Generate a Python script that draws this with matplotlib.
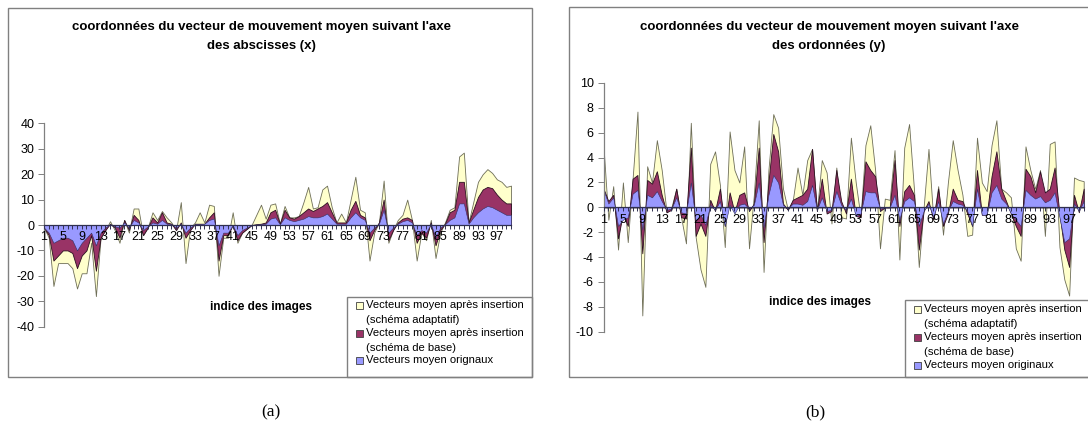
import matplotlib

matplotlib.use("Agg")
import matplotlib.pyplot as plt
from matplotlib.patches import Rectangle
import numpy as np

plt.rcParams["axes.unicode_minus"] = False

# Figure size in pixels (dpi = 100)
W, H = 1088, 434

IMAGE_INDEX = np.arange(1, 101)
X_TICK_LABELS = [str(i) if i % 4 == 1 else "" for i in IMAGE_INDEX]

# Panel (a): mean motion vector along the x axis
X_ADAPTIVE = [
    -1, -5, -24, -15, -15, -15, -17, -25, -19, -19,
    -7, -28, -5, -2, 1.5, -2, -7, 2, -3, 6.5,
    6.5, -4, -1, 5, 2, 5.5, 3, 1, -2, 9,
    -15, -1, 1, 5, 1, 8, 7.5, -20, -5, -5,
    5, -7, -3, -1.5, 0, 4, 8, 2.5, 8, 8.5,
    0.5, 7.5, 3, 3, 3.5, 9, 15, 6.5, 7, 14,
    15.5, 7, 1, 4.5, 1, 10, 19, 6, 5, -14,
    -3, 1, 17.5, -7, -2, 2, 4, 10, 2, -14,
    -3, -6, 2, -13, -3, 1, 6, 7, 27, 28.5,
    1, 9, 17, 20, 22, 20.5, 18, 17, 15, 15.5,
]
X_BASE = [
    -1, -4, -14, -12, -10, -10, -11, -17, -12, -10,
    -4, -18, -5, -2, 0.5, -1, -5, 2, -2, 4,
    2, -4, -1, 3, 1, 5, 1, 0.5, -2, 1,
    -5, -2, 0.5, 0.5, 0.5, 3, 5, -14, -4, -4,
    0, -6, -3, -1.5, 0, 0.3, 0.5, 1, 5, 6,
    0.5, 6, 3, 2.5, 3.5, 5, 6.5, 5.5, 6.5, 7.5,
    9, 5, 1, 1, 1, 6, 9.5, 4, 3, -6,
    -2, 1, 10, -6, -2, 1, 2.5, 3, 2, -7,
    -3, -5, 1, -8, -2, 0.5, 5, 6, 17, 17,
    1, 6, 11, 14, 15, 14.5, 12, 10, 8.5, 8.5,
]
X_ORIGINAL = [
    -1, -3, -7, -6, -5, -5, -6, -10, -7, -5,
    -3, -8, -3, -1, 0.3, -0.5, -1, 1, -1, 2,
    1, -2, -0.5, 1, 0.5, 2, 0.5, 0.3, -1, 0.5,
    -3, -1, 0.3, 0.3, 0.5, 2, 2.5, -8, -3, -3,
    0, -4, -2, -1, 0, 0.2, 0.3, 0.5, 2.5, 3,
    0.3, 3, 2, 1.5, 2, 2.5, 3.5, 3, 3, 3.5,
    4.5, 2.5, 0.5, 0.5, 0.5, 3, 5, 3, 2, -3,
    -1, 0.5, 6, -3, -1, 0.5, 1.5, 2, 1, -4,
    -2, -3, 0.5, -5, -1, 0.3, 2, 3, 8.5, 8.5,
    0.5, 3, 5, 6.5, 7.5, 7, 6, 5, 4, 4,
]

# Panel (b): mean motion vector along the y axis
Y_ADAPTIVE = [
    4.9, -1, 1.7, -3.4, 2, -2.8, 2.3, 7.7, -8.7, 3.3,
    2, 5.4, 3, -0.4, 0, 1.5, -0.8, -2.9, 6.8, -2.4,
    -5, -6.4, 3.5, 4.5, 1.8, -3.2, 6.1, 3, 2, 4.9,
    -3.3, 1, 7, -5.2, 3, 7.5, 6.4, 1.5, -0.2, 0.5,
    3.2, 1, 3.8, 4.7, -0.3, 3.8, 2.8, -1.3, 3.2, -0.8,
    -0.9, 5.6, 2, -0.8, 5, 6.6, 3, -3.3, 0.7, 0.6,
    4.6, -4.2, 4.8, 6.7, 1.5, -4.8, 0, 4.7, -1, 1.7,
    -2.2, 2, 5.4, 3, 1, -2.3, -2.2, 5.6, 2, 1.3,
    5, 7, 1.5, 1.2, 0.8, -3.3, -4.3, 4.9, 3, 1.5,
    3, -2.3, 5.1, 5.3, -3.2, -5.8, -7.1, 2.4, 2.2, 2.1,
]
Y_BASE = [
    1.5, 0.5, 1, -2.5, -0.5, -1.5, 2.3, 2.6, -3.7, 2.2,
    1.9, 2.9, 1, -0.4, -0.2, 1.5, -0.8, -0.9, 4.8, -2.3,
    -1.3, -2.3, 0.6, -0.3, 1.5, -1.5, 1.2, -0.4, 1, 1.2,
    -0.3, 0.3, 4.8, -2.8, 2, 5.9, 4.5, 0.3, -0.2, 0.6,
    0.8, 1, 1.5, 4.7, -0.3, 2.3, -0.5, -0.3, 3, 0.5,
    -0.5, 2.3, -0.7, -0.8, 3.7, 3, 2.5, -0.3, 0, 0,
    3.8, -1.5, 1.3, 1.8, 1, -3.4, -0.3, 0.5, -1, 1.5,
    -1.5, -0.5, 1.5, 0.6, 0.5, -0.5, -1.5, 3, -0.6, -0.6,
    2.5, 4.5, 1.5, 0.5, -0.5, -1.5, -2.3, 3.1, 2.5, 1.2,
    2.9, 1.2, 1.5, 3.2, -0.5, -3.4, -4.8, 1, -0.4, 1.5,
]
Y_ORIGINAL = [
    1.4, 0.3, 0.8, -1.5, -1, -0.8, 1.1, 1.4, -1.8, 1,
    0.8, 1.3, 0.5, -0.2, -0.1, 0.8, -0.4, -0.5, 2, -1.1,
    -0.6, -1.4, 0.2, -0.2, 0.5, -1.5, 0.2, -0.5, 0.2, 0.3,
    -0.1, 0.2, 2, -1.6, 1, 2.6, 2, 0.2, -0.1, 0.3,
    0.3, 0.2, 0.5, 1.8, -0.2, 0.8, -0.3, -0.2, 1.3, 0.2,
    -0.2, 0.7, -0.7, -0.5, 1.3, 1.2, 1.2, -0.1, 0, 0,
    1, -1, 0.5, 0.8, 0.5, -1.5, -0.3, 0.3, -0.8, 0.5,
    -1.3, -0.3, 0.5, 0.3, 0.2, -0.3, -1.5, 1.5, -0.6, -0.6,
    1.2, 1.8, 0.7, 0.3, -0.5, -1, -1.5, 1.4, 1, 0.7,
    0.9, 0.4, 0.6, 1.2, -0.8, -2.8, -2.5, 0.3, -0.3, 0.5,
]

X_YTICKS = list(range(-40, 41, 10))
Y_YTICKS = list(range(-10, 11, 2))

TITLE_LINE_1 = "coordonnées du vecteur de mouvement moyen suivant l'axe"
X_TITLE_LINE_2 = "des abscisses (x)"
Y_TITLE_LINE_2 = "des ordonnées (y)"
X_AXIS_LABEL = "indice des images"

LEGEND_LINES = [
    "Vecteurs moyen après insertion",
    "(schéma adaptatif)",
    "Vecteurs moyen après insertion",
    "(schéma de base)",
]
ORIGINAL_LABEL_X = "Vecteurs moyen orignaux"
ORIGINAL_LABEL_Y = "Vecteurs moyen originaux"

ADAPTIVE_COLOR = "#ffffcc"
BASE_COLOR = "#993366"
ORIGINAL_COLOR = "#9999ff"
FRAME_COLOR = "#808080"

FONT = "Liberation Sans"


def fx(x):
    return x / W


def fy(y):
    return 1 - y / H


def add_axes_px(fig, left, top, right, bottom):
    """Add axes given pixel edges measured from the top-left corner."""
    return fig.add_axes([fx(left), fy(bottom), (right - left) / W, (bottom - top) / H])


def add_frame(fig, left, top, right, bottom):
    fig.add_artist(
        Rectangle(
            (fx(left), fy(bottom)),
            (right - left) / W,
            (bottom - top) / H,
            transform=fig.transFigure,
            fill=False,
            edgecolor=FRAME_COLOR,
            linewidth=1.0,
        )
    )


def draw_areas(ax, adaptive, base, original, yticks):
    ax.fill_between(IMAGE_INDEX, 0, adaptive, facecolor=ADAPTIVE_COLOR,
                    edgecolor="#6e6e58", linewidth=0.6, zorder=1)
    ax.fill_between(IMAGE_INDEX, 0, base, facecolor=BASE_COLOR,
                    edgecolor="#2a1020", linewidth=0.6, zorder=1.1)
    ax.fill_between(IMAGE_INDEX, 0, original, facecolor=ORIGINAL_COLOR,
                    edgecolor="#303060", linewidth=0.4, zorder=1.2)

    ax.set_xlim(1, len(IMAGE_INDEX))
    ax.set_ylim(yticks[0], yticks[-1])
    ax.set_facecolor("none")
    ax.set_axisbelow(False)

    for side in ("top", "right"):
        ax.spines[side].set_visible(False)
    ax.spines["bottom"].set_position(("data", 0))
    ax.spines["bottom"].set_color("#303050")
    ax.spines["bottom"].set_linewidth(0.9)
    ax.spines["bottom"].set_zorder(3)
    ax.spines["left"].set_color(FRAME_COLOR)
    ax.spines["left"].set_linewidth(0.9)

    ax.set_xticks(IMAGE_INDEX)
    ax.set_xticklabels(X_TICK_LABELS)
    ax.set_yticks(yticks)
    ax.tick_params(axis="x", direction="out", length=3, width=0.7,
                   color="#303050", pad=1.5, labelsize=9)
    ax.tick_params(axis="y", direction="out", length=4, width=0.7,
                   color=FRAME_COLOR, pad=3, labelsize=9)
    for label in ax.get_xticklabels() + ax.get_yticklabels():
        label.set_fontfamily(FONT)


def draw_legend(fig, left, top, right, bottom, first_line_y, steps, original_label):
    add_frame(fig, left, top, right, bottom)
    ys = [first_line_y]
    for step in steps:
        ys.append(ys[-1] + step)
    colors = [ADAPTIVE_COLOR, None, BASE_COLOR, None, ORIGINAL_COLOR]
    texts = LEGEND_LINES + [original_label]
    box = 7
    for y, color, text in zip(ys, colors, texts):
        if color is not None:
            fig.add_artist(
                Rectangle(
                    (fx(left + 8.5), fy(y + box / 2)),
                    box / W,
                    box / H,
                    transform=fig.transFigure,
                    facecolor=color,
                    edgecolor="#404040",
                    linewidth=0.6,
                )
            )
        fig.text(fx(left + 18.5), fy(y), text, ha="left", va="center",
                 fontsize=8.1, family=FONT)


def draw_titles(fig, center_x, second_line, label_x, label_y):
    fig.text(fx(center_x), fy(27), TITLE_LINE_1, ha="center", va="center",
             fontsize=9.5, fontweight="bold", family=FONT)
    fig.text(fx(center_x), fy(46), second_line, ha="center", va="center",
             fontsize=9.5, fontweight="bold", family=FONT)
    fig.text(fx(label_x), fy(label_y), X_AXIS_LABEL, ha="center", va="center",
             fontsize=8.5, fontweight="bold", family=FONT)


def main():
    fig = plt.figure(figsize=(W / 100, H / 100), dpi=100)
    fig.patch.set_facecolor("white")

    # Panel (a)
    add_frame(fig, 7.5, 7.5, 532, 377)
    ax_x = add_axes_px(fig, 44, 123.4, 511, 326.6)
    draw_areas(ax_x, X_ADAPTIVE, X_BASE, X_ORIGINAL, X_YTICKS)
    draw_titles(fig, 261, X_TITLE_LINE_2, 261, 307)
    draw_legend(fig, 347, 297, 532, 377, 305, [15, 13, 15, 12], ORIGINAL_LABEL_X)

    # Panel (b)
    add_frame(fig, 568.5, 7, 1100, 377)
    ax_y = add_axes_px(fig, 603.5, 83, 1083.7, 331.6)
    draw_areas(ax_y, Y_ADAPTIVE, Y_BASE, Y_ORIGINAL, Y_YTICKS)
    draw_titles(fig, 829, Y_TITLE_LINE_2, 820, 302)
    draw_legend(fig, 905, 300, 1100, 377, 309, [15, 13.5, 14.5, 13], ORIGINAL_LABEL_Y)

    # Sub-figure captions
    fig.text(fx(271), fy(412), "(a)", ha="center", va="center",
             fontsize=12.5, family="Liberation Serif")
    fig.text(fx(815), fy(412), "(b)", ha="center", va="center",
             fontsize=12.5, family="Liberation Serif")

    fig.savefig("out.png", dpi=100)
    plt.close(fig)


if __name__ == "__main__":
    main()
